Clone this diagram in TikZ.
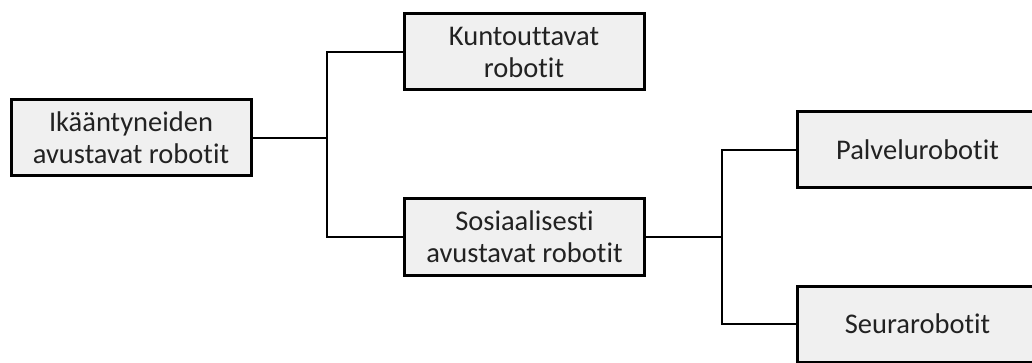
\documentclass[tikz,border=0pt]{standalone}
\usepackage{fontspec}
\setmainfont{Carlito}[Ligatures={NoCommon}]
\begin{document}
\begin{tikzpicture}[x=1pt,y=-1pt,
  box/.style={draw=black, line width=3pt, fill=boxgray, minimum width=240pt, minimum height=76pt,
    inner sep=0pt, align=center, text=textgray, font=\fontsize{28.5}{32}\selectfont},
  conn/.style={draw=black, line width=2.8pt}]
\definecolor{boxgray}{HTML}{F0F0F0}
\definecolor{textgray}{HTML}{222222}
\useasboundingbox (0,0) rectangle (1032,363);
\clip (0,0) rectangle (1032,363);
\fill[white] (0,0) rectangle (1032,363);
\node[box] (b1) at (131,138) {Ikääntyneiden\\avustavat robotit};
\node[box] (b2) at (524,52) {Kuntouttavat\\robotit};
\node[box] (b3) at (524.5,237) {Sosiaalisesti\\avustavat robotit};
\node[box] (b4) at (917.5,150) {Palvelurobotit};
\node[box] (b5) at (917.5,324) {Seurarobotit};
\coordinate (j1) at (327,0);
\coordinate (j2) at (722,0);
\draw[conn] (b1.east) -- (b1.east -| j1) |- (b2.west);
\draw[conn] (b1.east -| j1) |- (b3.west);
\draw[conn] (b3.east) -- (b3.east -| j2) |- (b4.west);
\draw[conn] (b3.east -| j2) |- (b5.west);
\end{tikzpicture}
\end{document}
